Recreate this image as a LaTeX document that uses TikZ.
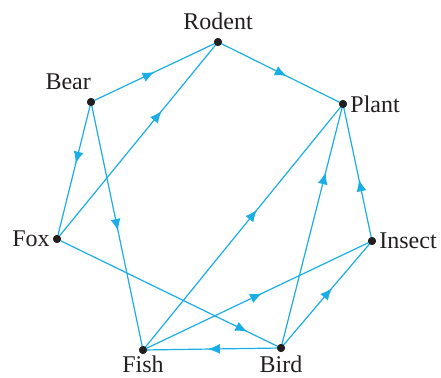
\documentclass[tikz,border=0pt]{standalone}
\usepackage{fontspec}
\setmainfont{Liberation Serif}
\usetikzlibrary{arrows.meta,decorations.markings}
\definecolor{web}{HTML}{1BADE6}
\definecolor{ink}{HTML}{231F20}
\tikzset{
  every node/.style={font=\fontsize{24}{28}\selectfont,text=ink},
  animal/.style={circle,fill=ink,inner sep=0pt,minimum size=8pt},
  eats/.style={draw=web,line width=1.2pt,postaction={decorate},
    decoration={markings,mark=at position #1 with {\arrow[web]{Latex[length=12pt,width=10pt]}}}},
  eats/.default=0.5,
}

\begin{document}
\begin{tikzpicture}[x=1pt,y=-1pt]
\useasboundingbox (0,0) rectangle (441,377);

% animals
\node[animal,label={[inner sep=1pt,yshift=7pt]above:Rodent}] (rodent) at (218,42) {};
\node[animal,label={[inner sep=0pt,xshift=3pt,yshift=9pt]above left:Bear}] (bear) at (91,102) {};
\node[animal,label={[inner sep=3pt]right:Plant}] (plant) at (343,104) {};
\node[animal,label={[inner sep=3pt]right:Insect}] (insect) at (372,241) {};
\node[animal,label={[inner sep=0pt,yshift=-3pt]below:Bird}] (bird) at (281,348) {};
\node[animal,label={[inner sep=0pt,yshift=-1pt]below:Fish}] (fish) at (143,350) {};
\node[animal,label={[inner sep=3pt]left:Fox}] (fox) at (57,239) {};

% food web
\draw[eats=0.5] (bear.center) -- (rodent.center);
\draw[eats=0.55] (rodent.center) -- (plant.center);
\draw[eats=0.65] (fox.center) -- (rodent.center);
\draw[eats=0.45] (bear.center) -- (fox.center);
\draw[eats=0.52] (bear.center) -- (fish.center);
\draw[eats=0.85] (fox.center) -- (bird.center);
\draw[eats=0.57] (fish.center) -- (plant.center);
\draw[eats=0.72] (bird.center) -- (plant.center);
\draw[eats=0.45] (insect.center) -- (plant.center);
\draw[eats=0.56] (bird.center) -- (insect.center);
\draw[eats=0.52] (fish.center) -- (insect.center);
\draw[eats=0.53] (bird.center) -- (fish.center);

% dots on top
\foreach \n in {rodent,bear,plant,insect,bird,fish,fox}
  \fill[ink] (\n) circle (4pt);

\end{tikzpicture}
\end{document}
